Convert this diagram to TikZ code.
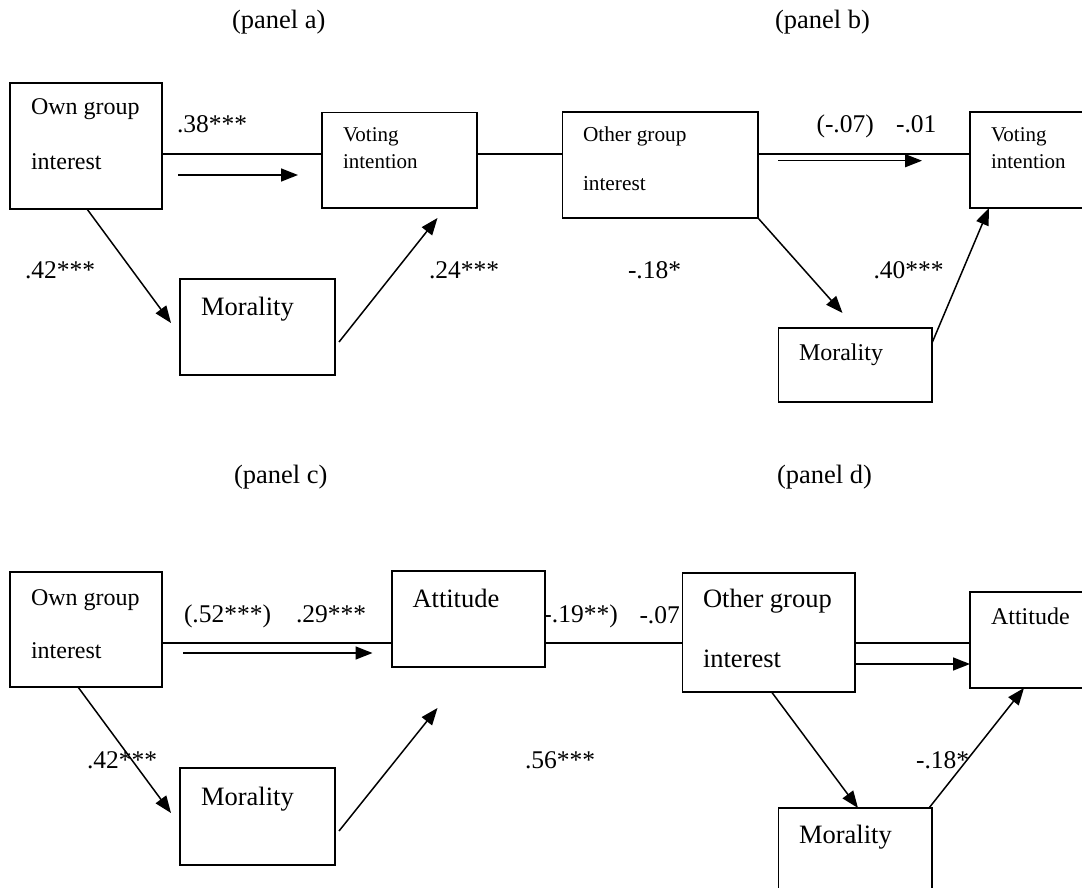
\documentclass[tikz,border=0pt]{standalone}
\usepackage{fontspec}
\setmainfont{Liberation Serif}
\usetikzlibrary{arrows.meta}
\tikzset{
  box/.style={draw, line width=1.6pt, fill=white, inner sep=0pt, outer sep=0pt},
  conn/.style={line width=1.6pt},
  arr/.style={line width=1.5pt, -{Triangle[length=17pt,width=13pt]}},
  lbl/.style={anchor=base west, inner sep=0pt, outer sep=0pt, font=\fontsize{#1}{#1}\selectfont},
}
\begin{document}
\begin{tikzpicture}[x=1pt, y=-1pt]
\useasboundingbox (0,0) rectangle (1082,888);

% panel titles
\node[lbl=26.5] (pa) at (232,29) {(panel a)};
\node[lbl=26.5] (pb) at (775,29) {(panel b)};
\node[lbl=26.5] (pc) at (234,483) {(panel c)};
\node[lbl=26.5] (pd) at (777,483) {(panel d)};

% coefficient labels
\node[lbl=25.5] (c38) at (177,133) {.38***};
\node[lbl=25.5] (c42a) at (25,278) {.42***};
\node[lbl=25.5] (c24) at (429,278) {.24***};
\node[lbl=25.5] (c07b) at (816.5,133) {(-.07)};
\node[lbl=25.5] (c01) at (896,133) {-.01};
\node[lbl=25.5] (c18b) at (628,278) {-.18*};
\node[lbl=25.5] (c40) at (873.5,278) {.40***};
\node[lbl=25.5] (c52) at (184,622) {(.52***)};
\node[lbl=25.5] (c29) at (296,622) {.29***};
\node[lbl=25.5] (c42c) at (87,768) {.42***};
\node[lbl=25.5] (c56) at (525,768) {.56***};
\node[lbl=25.5, anchor=base east] (c19) at (617.8,622) {(-.19**)};
\node[lbl=25.5] (c07d) at (639.5,623) {-.07};
\node[lbl=25.5] (c18d) at (916,768) {-.18*};

% boxes
\node[box, minimum width=152pt, minimum height=126pt] (ownA) at (86,146) {};
\node[box, minimum width=155pt, minimum height=95.5pt] (voteA) at (399.5,160.25) {};
\node[box, minimum width=155pt, minimum height=96pt] (morA) at (257.5,327) {};
\node[box, minimum width=195.5pt, minimum height=106pt] (othB) at (660.25,165) {};
\node[box, minimum width=115pt, minimum height=96pt] (voteB) at (1027.5,160) {};
\node[box, minimum width=153.5pt, minimum height=74pt] (morB) at (855.25,365) {};
\node[box, minimum width=152pt, minimum height=115pt] (ownC) at (86,629.5) {};
\node[box, minimum width=153pt, minimum height=96pt] (attC) at (468.5,619) {};
\node[box, minimum width=155pt, minimum height=97pt] (morC) at (257.5,816.5) {};
\node[box, minimum width=172.6pt, minimum height=119pt] (othD) at (768.7,632.5) {};
\node[box, minimum width=115pt, minimum height=96pt] (attD) at (1027.5,640) {};
\node[box, minimum width=153.5pt, minimum height=87pt] (morD) at (855.25,851.5) {};

% box texts
\node[lbl=24] (tA1) at (31,115) {Own group};
\node[lbl=24] (tA2) at (31,170) {interest};
\node[lbl=21] (tA3) at (343,142) {Voting};
\node[lbl=21] (tA4) at (343,168) {intention};
\node[lbl=26.5] (tA5) at (201,315) {Morality};
\node[lbl=21.3] (tB1) at (583,142) {Other group};
\node[lbl=21.3] (tB2) at (583,190) {interest};
\node[lbl=21] (tB3) at (991,142) {Voting};
\node[lbl=21] (tB4) at (991,168) {intention};
\node[lbl=24] (tB5) at (799,360) {Morality};
\node[lbl=24] (tC1) at (31,605) {Own group};
\node[lbl=24] (tC2) at (31,658) {interest};
\node[lbl=26.5] (tC3) at (412.5,607) {Attitude};
\node[lbl=26.5] (tC4) at (201,805) {Morality};
\node[lbl=26.5] (tD1) at (703,607) {Other group};
\node[lbl=26.5] (tD2) at (703,667) {interest};
\node[lbl=24] (tD3) at (991,624) {Attitude};
\node[lbl=26.5] (tD4) at (799,843) {Morality};

% helper coordinates
\coordinate (yTop) at (0,154);
\coordinate (yBot) at (0,643);
\coordinate (aArrS) at (178,175);
\coordinate (aArrE) at (298,175);
\coordinate (aDiagE) at (171,323);
\coordinate (aMorS) at (339,342);
\coordinate (aMorE) at (437.5,218);
\coordinate (bArrS) at (778,160.7);
\coordinate (bArrE) at (922,160.7);
\coordinate (bDiagE) at (842.5,313);
\coordinate (cArrS) at (183,653);
\coordinate (cArrE) at (372.5,653);
\coordinate (cDiagE) at (171,813);
\coordinate (cMorS) at (339,831);
\coordinate (cMorE) at (437.5,708);

% panel a / b connectors
\draw[conn] (ownA.east |- yTop) -- (voteA.west |- yTop);
\draw[conn] (voteA.east |- yTop) -- (othB.west |- yTop);
\draw[conn] (othB.east |- yTop) -- (voteB.west |- yTop);
\draw[arr] (aArrS) -- (aArrE);
\draw[arr] (87,0 |- ownA.south) -- (aDiagE);
\draw[arr] (aMorS) -- (aMorE);
\draw[arr] (bArrS) -- (bArrE);
\draw[arr] (othB.south east) -- (bDiagE);
\draw[arr] (morB.east |- 0,343) -- (989,0 |- voteB.south);

% panel c / d connectors
\draw[conn] (ownC.east |- yBot) -- (attC.west |- yBot);
\draw[conn] (attC.east |- yBot) -- (othD.west |- yBot);
\draw[conn] (othD.east |- yBot) -- (attD.west |- yBot);
\draw[arr] (cArrS) -- (cArrE);
\draw[arr] (78,0 |- ownC.south) -- (cDiagE);
\draw[arr] (cMorS) -- (cMorE);
\draw[arr] (othD.east |- 0,664) -- (attD.west |- 0,664);
\draw[arr] (771.6,0 |- othD.south) -- (858,0 |- morD.north);
\draw[arr] (929,0 |- morD.north) -- (1024,0 |- attD.south);
\end{tikzpicture}
\end{document}
